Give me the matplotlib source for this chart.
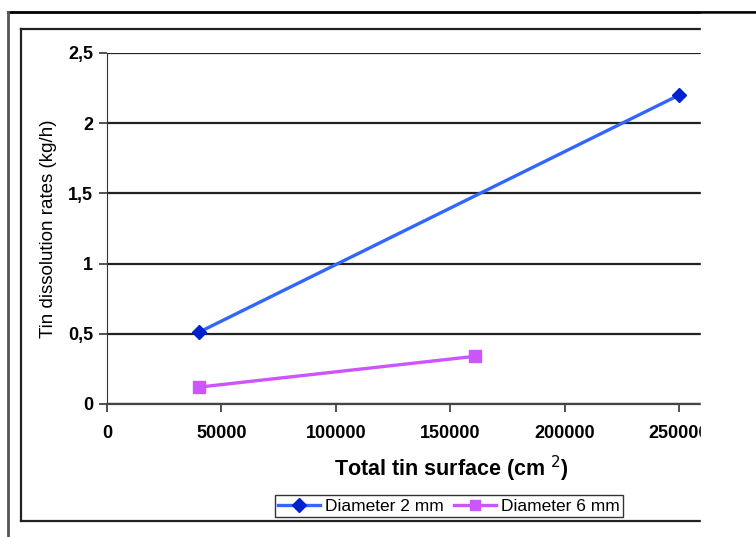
import matplotlib.pyplot as plt
from matplotlib.lines import Line2D
from matplotlib.patches import Rectangle
from matplotlib.ticker import FuncFormatter

plt.rcParams['font.family'] = ['Liberation Sans', 'DejaVu Sans']

# data
surface_2mm = [40000, 250000]
rate_2mm = [0.51, 2.2]
surface_6mm = [40000, 161000]
rate_6mm = [0.12, 0.34]
y_ticks = [0, 0.5, 1, 1.5, 2, 2.5]
x_ticks = [0, 50000, 100000, 150000, 200000, 250000]

W, H = 756, 537
fig = plt.figure(figsize=(W / 100, H / 100), dpi=100)

# axes placed in pixel terms
left, right, top, bottom = 107, 701, 53, 404
ax = fig.add_axes([left / W, 1 - bottom / H, (right - left) / W, (bottom - top) / H])

ax.plot(surface_2mm, rate_2mm, color='#3366ff', lw=2.4, marker='D', ms=7.5,
        mfc='#0022cc', mec='#0022cc', label='Diameter 2 mm', clip_on=False, zorder=5)
ax.plot(surface_6mm, rate_6mm, color='#cc55ff', lw=2.4, marker='s', ms=8.5,
        mfc='#cc55ff', mec='#cc55ff', label='Diameter 6 mm', clip_on=False, zorder=5)

ax.set_xlim(0, 259600)
ax.set_ylim(0, 2.5)
ax.set_xticks(x_ticks)
ax.set_yticks(y_ticks)
ax.yaxis.set_major_formatter(FuncFormatter(lambda v, p: ('%g' % v).replace('.', ',')))
ax.xaxis.set_major_formatter(FuncFormatter(lambda v, p: '%d' % v))
ax.grid(axis='y', color='#222222', lw=1.6)
ax.set_axisbelow(True)
for s in ['top', 'right']:
    ax.spines[s].set_visible(False)
ax.spines['left'].set_color('#333333')
ax.spines['bottom'].set_color('#444444')
ax.spines['bottom'].set_linewidth(1.6)
ax.tick_params(axis='both', direction='out', length=6, color='#333333', width=1.2)
ax.tick_params(axis='x', pad=9)
ax.tick_params(axis='y', pad=4)
for lab in ax.get_xticklabels() + ax.get_yticklabels():
    lab.set_fontweight('bold')
    lab.set_fontsize(13)

ax.set_ylabel('Tin dissolution rates (kg/h)', fontsize=13.5, labelpad=8)
ax.set_xlabel('Total tin surface (cm $^{2}$)', fontsize=15.5, fontweight='bold')
# the original plot area was wider than the visible crop, so the title sits right of centre
ax.xaxis.set_label_coords(0.579, -0.143)

leg = fig.legend(loc='center', bbox_to_anchor=(449 / W, 1 - 506 / H), ncol=2,
                 frameon=True, fancybox=False, edgecolor='black', fontsize=12.5,
                 handlelength=2.4, columnspacing=0.6, handletextpad=0.3,
                 borderpad=0.2, markerscale=0.9)
leg.get_frame().set_linewidth(1.0)

# cover the part that is cut off on the right
fig.patches.append(Rectangle((right / W, 0), (W - right) / W, 1 - 14 / H,
                             transform=fig.transFigure, color='white', zorder=10))

# outer and inner frames
fr = fig.transFigure
fig.lines.append(Line2D([8 / W, 1], [1 - 12 / H] * 2, transform=fr, color='black', lw=2))
fig.lines.append(Line2D([8 / W] * 2, [1 - 12 / H, 0], transform=fr, color='#555555', lw=2))
fig.lines.append(Line2D([21 / W, right / W], [1 - 29 / H] * 2, transform=fr, color='#222222', lw=1.6))
fig.lines.append(Line2D([21 / W] * 2, [1 - 29 / H, 1 - 521 / H], transform=fr, color='#222222', lw=1.6))
fig.lines.append(Line2D([21 / W, right / W], [1 - 521 / H] * 2, transform=fr, color='#222222', lw=1.6))

plt.savefig('out.png', dpi=100)
